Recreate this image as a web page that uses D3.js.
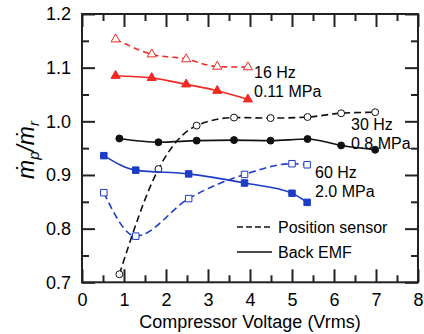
<!DOCTYPE html>
<html>
<head>
<meta charset="utf-8">
<script src="https://cdn.jsdelivr.net/npm/d3@7"></script>
<style>
  body { margin: 0; background: #fff; }
  svg { display: block; font-family: "Liberation Sans", Arial, sans-serif; }
  .axis text { font-size: 18px; fill: #000; }
  .axis path { display: none; }
  .axis line { stroke: #222; stroke-width: 2; }
</style>
</head>
<body>
<div id="chart"></div>
<script>
// voltage (Vrms) and mp/mr readings
const v16 = [0.80, 1.66, 2.48, 3.22, 3.95];
const pos16 = [1.153, 1.125, 1.116, 1.102, 1.101];
const emf16 = [1.085, 1.081, 1.069, 1.057, 1.041];

const v30 = [0.89, 1.82, 2.73, 3.62, 4.49, 5.37, 6.17, 6.98];
const pos30 = [0.715, 0.911, 0.992, 1.007, 1.006, 1.008, 1.015, 1.017];
const emf30 = [0.968, 0.961, 0.964, 0.965, 0.964, 0.967, 0.955, 0.947];

const v60 = [0.52, 1.28, 2.54, 3.87, 5.00, 5.36];
const pos60 = [0.867, 0.786, 0.856, 0.901, 0.921, 0.919];
const emf60 = [0.936, 0.909, 0.902, 0.885, 0.866, 0.849];

const xTickLabels = [0, 1, 2, 3, 4, 5, 6, 7, 8];
const yTickLabels = [0.7, 0.8, 0.9, 1.0, 1.1, 1.2];

const W = 424, H = 334;
const mL = 82, mR = 418, mT = 14, mB = 282.3;

const svg = d3.select('#chart').append('svg')
  .attr('width', W).attr('height', H);

const x = d3.scaleLinear().domain([0, 8]).range([mL, mR]);
const y = d3.scaleLinear().domain([0.7, 1.2]).range([mB, mT]);

const xMinor = d3.range(0.5, 8, 1);
const yMinor = d3.range(0.75, 1.2, 0.1);

// bottom
svg.append('g').attr('class', 'axis')
  .attr('transform', 'translate(0,' + mB + ')')
  .call(d3.axisBottom(x).tickValues(xTickLabels).tickSize(-13).tickPadding(11).tickFormat(d3.format('d')));
svg.append('g').attr('class', 'axis')
  .attr('transform', 'translate(0,' + mB + ')')
  .call(d3.axisBottom(x).tickValues(xMinor).tickSize(-7).tickFormat(''));
// top
svg.append('g').attr('class', 'axis')
  .attr('transform', 'translate(0,' + mT + ')')
  .call(d3.axisTop(x).tickValues(xTickLabels).tickSize(-13).tickFormat(''));
svg.append('g').attr('class', 'axis')
  .attr('transform', 'translate(0,' + mT + ')')
  .call(d3.axisTop(x).tickValues(xMinor).tickSize(-7).tickFormat(''));
// left
svg.append('g').attr('class', 'axis')
  .attr('transform', 'translate(' + mL + ',0)')
  .call(d3.axisLeft(y).tickValues(yTickLabels).tickSize(-13).tickPadding(11).tickFormat(d3.format('.1f')));
svg.append('g').attr('class', 'axis')
  .attr('transform', 'translate(' + mL + ',0)')
  .call(d3.axisLeft(y).tickValues(yMinor).tickSize(-7).tickFormat(''));
// right
svg.append('g').attr('class', 'axis')
  .attr('transform', 'translate(' + mR + ',0)')
  .call(d3.axisRight(y).tickValues(yTickLabels).tickSize(-13).tickFormat(''));
svg.append('g').attr('class', 'axis')
  .attr('transform', 'translate(' + mR + ',0)')
  .call(d3.axisRight(y).tickValues(yMinor).tickSize(-7).tickFormat(''));

svg.append('rect')
  .attr('x', mL).attr('y', mT)
  .attr('width', mR - mL).attr('height', mB - mT)
  .attr('fill', 'none').attr('stroke', '#222').attr('stroke-width', 2);

const line = d3.line().curve(d3.curveMonotoneX)
  .x(d => x(d[0])).y(d => y(d[1]));

const RED = '#ee2a22', BLUE = '#1d3cc6', BLACK = '#111';

const series = [
  {xs: v16, ys: pos16, color: RED, dash: '6,4', shape: 'tri', open: true},
  {xs: v16, ys: emf16, color: RED, dash: null, shape: 'tri', open: false},
  {xs: v30, ys: pos30, color: BLACK, dash: '7,4', shape: 'circle', open: true},
  {xs: v30, ys: emf30, color: BLACK, dash: null, shape: 'circle', open: false},
  {xs: v60, ys: pos60, color: BLUE, dash: '7,4', shape: 'square', open: true},
  {xs: v60, ys: emf60, color: BLUE, dash: null, shape: 'square', open: false},
];

const symbols = {tri: d3.symbolTriangle, circle: d3.symbolCircle, square: d3.symbolSquare};
const sizes = {tri: 36, circle: 38, square: 42};

series.forEach(s => {
  const pts = s.xs.map((v, i) => [v, s.ys[i]]);
  svg.append('path')
    .attr('d', line(pts))
    .attr('fill', 'none')
    .attr('stroke', s.color)
    .attr('stroke-width', 1.6)
    .attr('stroke-dasharray', s.dash);
  svg.append('g').selectAll('path')
    .data(pts)
    .enter().append('path')
      .attr('transform', d => 'translate(' + x(d[0]) + ',' + y(d[1]) + ')')
      .attr('d', d3.symbol().type(symbols[s.shape]).size(sizes[s.shape]))
      .attr('fill', s.open ? '#fff' : s.color)
      .attr('stroke', s.color)
      .attr('stroke-width', 1);
});

// annotations
const notes = [
  ['16 Hz', 254, 78], ['0.11 MPa', 254, 97],
  ['30 Hz', 351, 130], ['0.8 MPa', 351, 149],
  ['60 Hz', 315, 178], ['2.0 MPa', 315, 197],
];
svg.append('g').selectAll('text')
  .data(notes)
  .enter().append('text')
    .attr('x', d => d[1]).attr('y', d => d[2])
    .attr('font-size', 16).attr('fill', '#000')
    .text(d => d[0]);

// legend
const leg = svg.append('g');
[['Position sensor', '6,3', 227], ['Back EMF', null, 252]].forEach(l => {
  leg.append('line')
    .attr('x1', 237).attr('x2', 272).attr('y1', l[2]).attr('y2', l[2])
    .attr('stroke', '#111').attr('stroke-width', 1.6)
    .attr('stroke-dasharray', l[1]);
  leg.append('text')
    .attr('x', 278).attr('y', l[2] + 6)
    .attr('font-size', 16).attr('fill', '#000')
    .text(l[0]);
});

// axis titles
svg.append('text')
  .attr('x', x(4)).attr('y', 328)
  .attr('text-anchor', 'middle')
  .attr('font-size', 18).attr('fill', '#000')
  .text('Compressor Voltage (Vrms)');

const yt = svg.append('text')
  .attr('transform', 'translate(34,150) rotate(-90)')
  .attr('text-anchor', 'middle')
  .attr('font-size', 23).attr('font-style', 'italic').attr('fill', '#000');
yt.append('tspan').text('\u1E41');
yt.append('tspan').attr('font-size', 15).attr('dy', 5).text('p');
yt.append('tspan').attr('dy', -5).text('/\u1E41');
yt.append('tspan').attr('font-size', 15).attr('dy', 5).text('r');
</script>
</body>
</html>
